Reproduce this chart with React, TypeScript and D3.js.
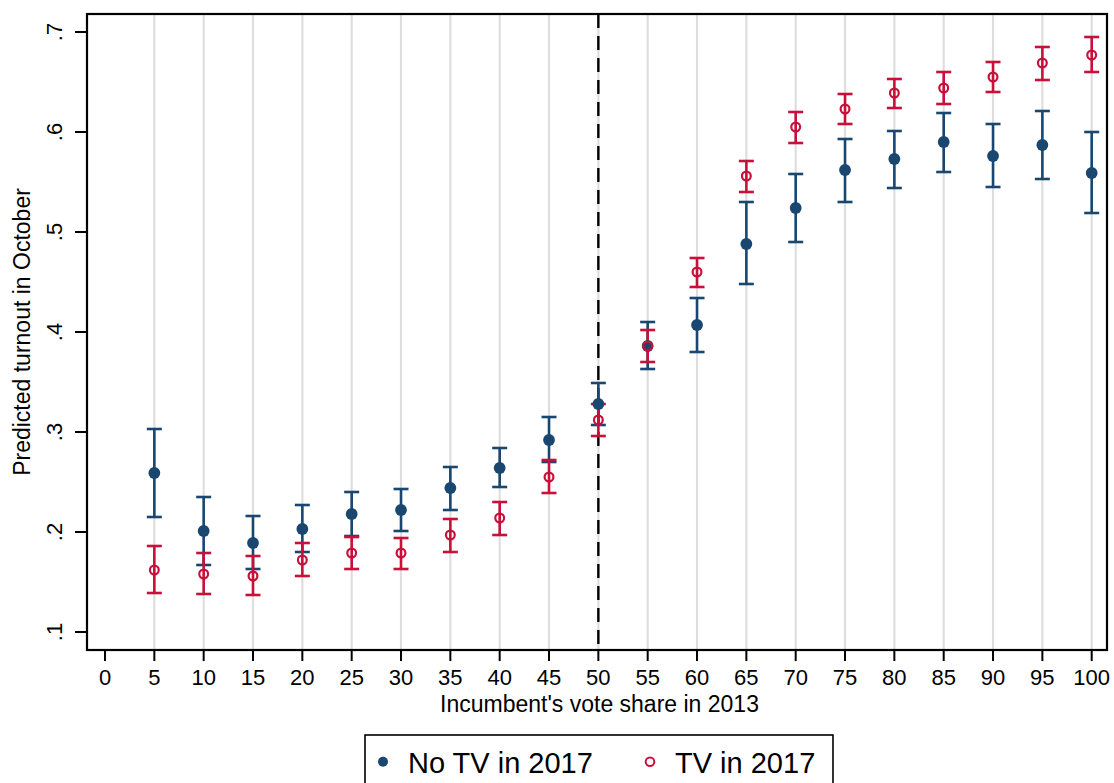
import React from "react";
import * as d3 from "d3";

const voteShare = [5, 10, 15, 20, 25, 30, 35, 40, 45, 50, 55, 60, 65, 70, 75, 80, 85, 90, 95, 100];

const noTV = [0.259, 0.201, 0.189, 0.203, 0.218, 0.222, 0.244, 0.264, 0.292, 0.328, 0.386, 0.407, 0.488, 0.524, 0.562, 0.573, 0.590, 0.576, 0.587, 0.559];
const noTVLo = [0.215, 0.167, 0.163, 0.180, 0.196, 0.201, 0.222, 0.245, 0.270, 0.307, 0.363, 0.380, 0.448, 0.490, 0.530, 0.544, 0.560, 0.545, 0.553, 0.519];
const noTVHi = [0.303, 0.235, 0.216, 0.227, 0.240, 0.243, 0.265, 0.284, 0.315, 0.349, 0.410, 0.434, 0.530, 0.558, 0.593, 0.601, 0.619, 0.608, 0.621, 0.600];

const tv = [0.162, 0.158, 0.156, 0.172, 0.179, 0.179, 0.197, 0.214, 0.255, 0.312, 0.386, 0.460, 0.556, 0.605, 0.623, 0.639, 0.644, 0.655, 0.669, 0.677];
const tvLo = [0.139, 0.138, 0.137, 0.156, 0.163, 0.163, 0.180, 0.197, 0.239, 0.296, 0.370, 0.445, 0.540, 0.589, 0.608, 0.624, 0.628, 0.640, 0.652, 0.660];
const tvHi = [0.186, 0.179, 0.176, 0.189, 0.195, 0.194, 0.213, 0.230, 0.272, 0.328, 0.402, 0.474, 0.571, 0.620, 0.638, 0.653, 0.660, 0.670, 0.685, 0.695];

const xTicks = d3.range(0, 101, 5);
const yTicks = [0.1, 0.2, 0.3, 0.4, 0.5, 0.6, 0.7];
const yTickLabels = [".1", ".2", ".3", ".4", ".5", ".6", ".7"];
const cutoff = 50;

const seriesNames = ["No TV in 2017", "TV in 2017"];
const BLUE = "#1a476f";
const RED = "#c8103a";
const FONT = "'Liberation Sans', Arial, Helvetica, sans-serif";

const W = 1114;
const H = 783;
const frame = { left: 87, right: 1107, top: 14, bottom: 650 };

export default function App() {
  const x = d3.scaleLinear().domain([0, 100]).range([105, 1091.7]);
  const y = d3.scaleLinear().domain([0.1, 0.7]).range([632, 32]);
  const capW = 7.5;

  const errorBars = (lo: number[], hi: number[], color: string, key: string) =>
    voteShare.map((v, i) => {
      const cx = x(v);
      const y1 = y(lo[i]);
      const y2 = y(hi[i]);
      return (
        <g key={key + i} stroke={color} strokeWidth={2.6} fill="none">
          <line x1={cx} x2={cx} y1={y1} y2={y2} />
          <line x1={cx - capW} x2={cx + capW} y1={y1} y2={y1} />
          <line x1={cx - capW} x2={cx + capW} y1={y2} y2={y2} />
        </g>
      );
    });

  return (
    <svg
      width={W}
      height={H}
      style={{ position: "absolute", left: 0, top: 0, background: "#fff" }}
      fontFamily={FONT}
    >
      <rect x={0} y={0} width={W} height={H} fill="#fff" />
      {/* gridlines */}
      {xTicks.filter((t) => t > 0).map((t) => (
        <line key={"g" + t} x1={x(t)} x2={x(t)} y1={frame.top} y2={frame.bottom} stroke="#dedede" strokeWidth={2.2} />
      ))}
      {/* cutoff line */}
      <line x1={x(cutoff)} x2={x(cutoff)} y1={frame.top} y2={frame.bottom} stroke="#000" strokeWidth={2.4} strokeDasharray="14 8" />
      {/* error bars */}
      {errorBars(noTVLo, noTVHi, BLUE, "b")}
      {errorBars(tvLo, tvHi, RED, "r")}
      {/* markers */}
      {voteShare.map((v, i) => (
        <circle key={"bm" + i} cx={x(v)} cy={y(noTV[i])} r={5.9} fill={BLUE} />
      ))}
      {voteShare.map((v, i) => (
        <circle key={"rm" + i} cx={x(v)} cy={y(tv[i])} r={4.4} fill="none" stroke={RED} strokeWidth={2.2} />
      ))}
      {/* frame */}
      <rect x={frame.left} y={frame.top} width={frame.right - frame.left} height={frame.bottom - frame.top} fill="none" stroke="#000" strokeWidth={2.2} />
      {/* x axis ticks */}
      {xTicks.map((t) => (
        <g key={"xt" + t}>
          <line x1={x(t)} x2={x(t)} y1={frame.bottom} y2={frame.bottom + 11} stroke="#000" strokeWidth={2} />
          <text x={x(t)} y={685} textAnchor="middle" fontSize={22} fill="#000">{t}</text>
        </g>
      ))}
      {/* y axis ticks */}
      {yTicks.map((t, i) => (
        <g key={"yt" + t}>
          <line x1={frame.left - 12} x2={frame.left} y1={y(t)} y2={y(t)} stroke="#000" strokeWidth={2} />
          <text transform={`translate(62,${y(t)}) rotate(-90)`} textAnchor="middle" fontSize={22} fill="#000">{yTickLabels[i]}</text>
        </g>
      ))}
      {/* axis titles */}
      <text x={599.5} y={712} textAnchor="middle" fontSize={23} fill="#000">Incumbent's vote share in 2013</text>
      <text transform="translate(30,332) rotate(-90)" textAnchor="middle" fontSize={23} fill="#000">Predicted turnout in October</text>
      {/* legend */}
      <rect x={365} y={735} width={468} height={70} fill="#fff" stroke="#000" strokeWidth={1.6} />
      <circle cx={383} cy={761.7} r={5} fill={BLUE} />
      <text x={408} y={773} fontSize={29} fill="#000">{seriesNames[0]}</text>
      <circle cx={650} cy={761.7} r={4.3} fill="none" stroke={RED} strokeWidth={2} />
      <text x={675} y={773} fontSize={29} fill="#000">{seriesNames[1]}</text>
    </svg>
  );
}
